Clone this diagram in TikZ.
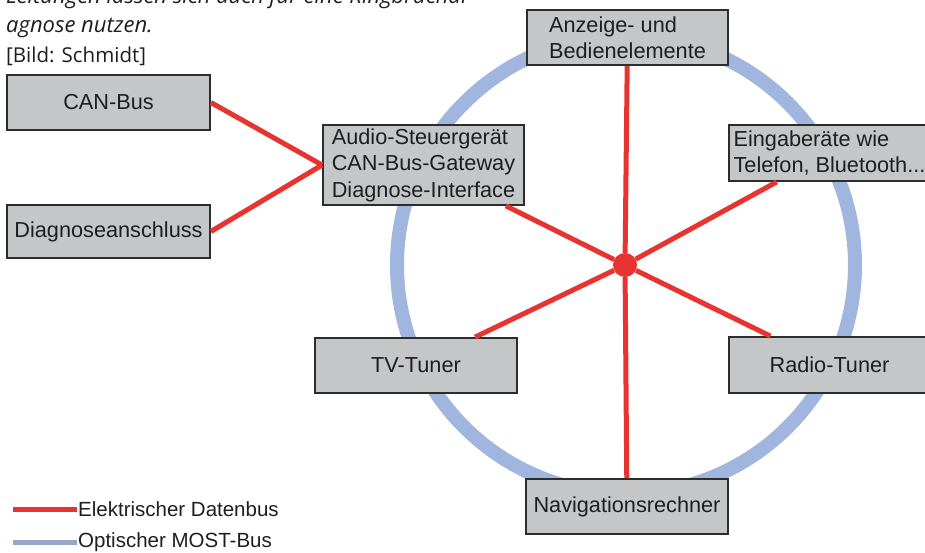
\documentclass[tikz,border=0pt]{standalone}
\usepackage{fontspec}
\setmainfont{Liberation Sans}
\newfontfamily\capfont{Open Sans}
\usepackage{tikz}
\usepackage{xcolor}
\definecolor{busred}{RGB}{232,52,48}
\definecolor{mostblue}{RGB}{160,182,222}
\definecolor{mostgray}{RGB}{152,166,200}
\definecolor{boxgray}{RGB}{196,198,199}
\definecolor{boxline}{RGB}{45,45,45}
\definecolor{txtgray}{RGB}{30,30,30}

\tikzset{
  unit/.style={draw=boxline,line width=1.8pt,fill=boxgray,rectangle,
    minimum width=201pt,minimum height=55pt,inner sep=3pt,align=left,
    text=txtgray,font=\fontsize{21.7}{26.5}\selectfont},
  datenbus/.style={busred,line width=5pt},
  mostbus/.style={mostblue,line width=14pt},
  legtext/.style={anchor=west,inner sep=1pt,text=txtgray,font=\fontsize{20.5}{24}\selectfont},
  captext/.style={anchor=base west,inner sep=0pt,text=txtgray,font=\capfont\fontsize{20.5}{24}\selectfont}
}

\begin{document}
\begin{tikzpicture}[x=1pt,y=-1pt]
\useasboundingbox (0,0) rectangle (925,552);
\clip (0,0) rectangle (925,552);
% caption (cut at the top)
\node[captext,font=\capfont\itshape\fontsize{22}{24}\selectfont] (cap1) at (6,3) {Leitungen lassen sich auch für eine Ringbruchdi-};
\node[captext,font=\capfont\itshape\fontsize{22}{24}\selectfont] (cap2) at (6,32) {agnose nutzen.};
\node[captext] (cap3) at (6,62) {[Bild: Schmidt]};
% optical ring
\draw[mostbus] (626,265) circle[radius=229];
% units
\node[unit] (anz) at (627.5,37.5) {Anzeige- und\\Bedienelemente};
\node[unit,minimum width=203pt] (can) at (108.5,102.5) {CAN-Bus};
\node[unit,minimum width=203pt,minimum height=53pt] (diag) at (108.5,231.5) {Diagnoseanschluss};
\node[unit,minimum height=80pt] (audio) at (423.5,165) {Audio-Steuergerät\\CAN-Bus-Gateway\\Diagnose-Interface};
\node[unit,minimum height=56pt] (eing) at (829.5,153) {Eingaberäte wie\\Telefon, Bluetooth...};
\node[unit,minimum width=202pt] (tv) at (416,365.5) {TV-Tuner};
\node[unit,minimum height=56pt] (radio) at (829.5,365) {Radio-Tuner};
\node[unit,minimum width=202pt] (navi) at (627,506.5) {Navigationsrechner};
\node[circle,fill=busred,minimum size=24pt,inner sep=0pt] (hub) at (625,265) {};
% electrical bus
\draw[datenbus] (can.east) -- (audio.west);
\draw[datenbus] (diag.east) -- (audio.west);
\draw[datenbus] (hub) -- (anz);
\draw[datenbus] (hub) -- (navi);
\draw[datenbus] (hub) -- (audio);
\draw[datenbus] (hub) -- (eing);
\draw[datenbus] (hub) -- (tv);
\draw[datenbus] (hub) -- (radio);
% legend
\node[legtext] (leg1) at (77,509) {Elektrischer Datenbus};
\node[legtext] (leg2) at (77,542) {Optischer MOST-Bus};
\coordinate (l1) at (13,509);
\coordinate (l2) at (13,542);
\draw[datenbus] (l1) -- (leg1.west);
\draw[mostgray,line width=5pt] (l2) -- (leg2.west);
\end{tikzpicture}
\end{document}
